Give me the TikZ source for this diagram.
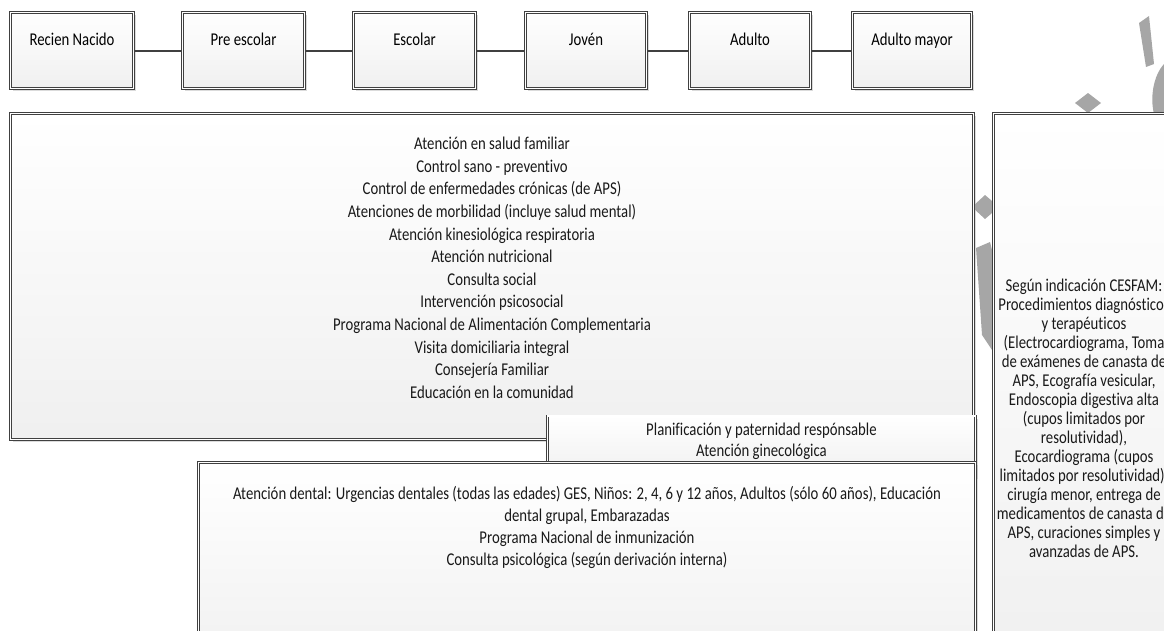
\documentclass[tikz,border=0pt]{standalone}
\usepackage{fontspec}
\setmainfont[FakeStretch=0.82, Ligatures=NoCommon]{Carlito}
\usetikzlibrary{shadows}
\begin{document}
\begin{tikzpicture}[x=1pt,y=-1pt,
  wbox/.style={rectangle, draw=gray!50!black, double=white, double distance=1.4pt, line width=0.7pt,
    top color=white, bottom color=gray!12, inner sep=0pt,
    drop shadow={shadow xshift=2.5pt, shadow yshift=-2.5pt, fill=gray!70, opacity=0.4}},
  agebox/.style={wbox, minimum width=#1, minimum height=76pt, text depth=19.6pt, text height=10pt,
    font=\fontsize{18}{20}\selectfont},
  txt/.style={align=center, inner sep=0pt, text=black!90},
  conn/.style={draw=black!75, line width=2pt},
  wmark/.style={fill=black!35, draw=none}
]
\useasboundingbox (0,0) rectangle (1164,630);
\clip (0,0) rectangle (1164,630);
% watermark
\fill[wmark] (1139,23) -- (1149,16) -- (1154,64) -- (1146,67) -- cycle;
\fill[wmark] (1164,64) .. controls (1153,76) and (1150,98) .. (1154,114) -- (1164,114) -- cycle;
\fill[wmark] (1075,103) -- (1088,93) -- (1101,103) -- (1088,113) -- cycle;
\fill[wmark] (972,207) -- (985,195) -- (992,201) -- (992,213) -- (985,219) -- cycle;
\fill[wmark] (976,248) -- (990,242) -- (992,250) -- (992,350) -- (982,335) -- cycle;
% boxes
\node[wbox, minimum width=963pt, minimum height=326pt] (b1) at (492,276.5) {};
\node[wbox, minimum width=180pt, minimum height=565pt] (rb) at (1083.5,396) {};
\node[wbox, minimum width=428pt, minimum height=60pt] (pf) at (761.5,446) {};
\node[wbox, minimum width=777pt, minimum height=216pt] (dn) at (587,570.5) {};
% texts
\node[txt, anchor=north, font=\fontsize{18}{22.6}\selectfont] (b1t) at (492,137) {Atención en salud familiar\\
Control sano - preventivo\\
Control de enfermedades crónicas (de APS)\\
Atenciones de morbilidad (incluye salud mental)\\
Atención kinesiológica respiratoria\\
Atención nutricional\\
Consulta social\\
Intervención psicosocial\\
Programa Nacional de Alimentación Complementaria\\
Visita domiciliaria integral\\
Consejería Familiar\\
Educación en la comunidad};
\node[txt, anchor=north, font=\fontsize{18}{21}\selectfont] (pft) at (761.5,423) {Planificación y paternidad respónsable\\Atención ginecológica};
\node[txt, anchor=north, font=\fontsize{18}{22}\selectfont] (dnt) at (587,486) {Atención dental: Urgencias dentales (todas las edades) GES, Niños: 2, 4, 6 y 12 años, Adultos (sólo 60 años), Educación\\
dental grupal, Embarazadas\\
Programa Nacional de inmunización\\
Consulta psicológica (según derivación interna)};
\node[txt, anchor=north, font=\fontsize{18}{19}\selectfont] (rbt) at (1084,279) {Según indicación CESFAM:\\
Procedimientos diagnósticos\\
y terapéuticos\\
(Electrocardiograma, Toma\\
de exámenes de canasta de\\
APS, Ecografía vesicular,\\
Endoscopia digestiva alta\\
(cupos limitados por\\
resolutividad),\\
Ecocardiograma (cupos\\
limitados por resolutividad),\\
cirugía menor, entrega de\\
medicamentos de canasta de\\
APS, curaciones simples y\\
avanzadas de APS.};
% age boxes
\node[agebox=123pt] (rn) at (72,50.5) {Recien Nacido};
\node[agebox=122pt] (pe) at (243.5,50.5) {Pre escolar};
\node[agebox=122pt] (es) at (414.5,50.5) {Escolar};
\node[agebox=121pt] (jo) at (586,50.5) {Jovén};
\node[agebox=121pt] (ad) at (750,50.5) {Adulto};
\node[agebox=119pt] (am) at (912,50.5) {Adulto mayor};
\draw[conn] (rn) -- (pe);
\draw[conn] (pe) -- (es);
\draw[conn] (es) -- (jo);
\draw[conn] (jo) -- (ad);
\draw[conn] (ad) -- (am);
\end{tikzpicture}
\end{document}
